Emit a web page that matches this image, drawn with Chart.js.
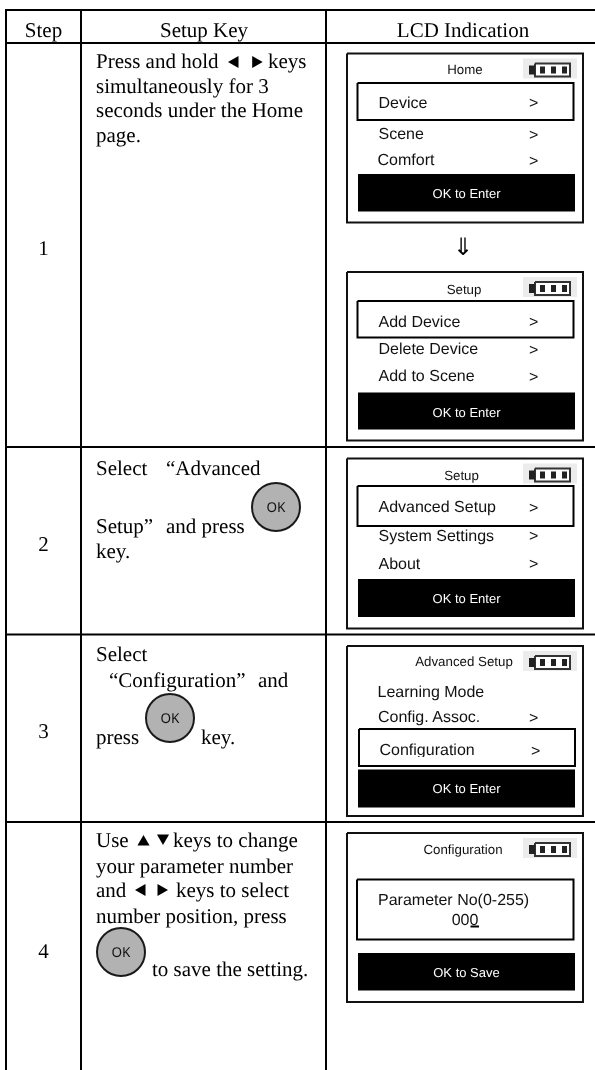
<!DOCTYPE html>
<html>
<head>
<meta charset="utf-8">
<title>Setup steps</title>
<script src="https://cdn.jsdelivr.net/npm/chart.js@4/dist/chart.umd.min.js"></script>
<style>
  html, body { margin: 0; padding: 0; background: #fff; }
  canvas { display: block; }
</style>
</head>
<body>
<canvas id="myChart" width="595" height="1070"></canvas>
<script>
// table rules
const tableRows = [10, 43, 447, 634.5, 822];
const tableCols = [6, 81, 326];

// header and step column
const headers = ['Step', 'Setup Key', 'LCD Indication'];
const headerX = [43.5, 204, 463];
const headerY = [36.5, 36.5, 36.5];
const steps = ['1', '2', '3', '4'];
const stepY = [255, 551, 738, 958];

// middle column text
const setupText = [
  'Press and hold', 'keys', 'simultaneously for 3', 'seconds under the Home', 'page.',
  'Select', '\u201CAdvanced', 'Setup\u201D', 'and press', 'key.',
  'Select', '\u201CConfiguration\u201D', 'and', 'press', 'key.',
  'Use', 'keys to change', 'your parameter number', 'and', 'keys to select',
  'number position, press', 'to save the setting.'
];
const setupX = [
  96, 268, 96, 96, 96,
  96, 166, 96, 166, 96,
  96, 109, 258, 96, 201,
  96, 173, 96, 96, 176,
  96, 152
];
const setupY = [
  68, 68, 92.5, 117, 142,
  475, 475, 532.5, 532.5, 558,
  660.5, 686.5, 686.5, 744, 744,
  847, 847, 872.5, 897, 897,
  922.5, 975.5
];

// key glyphs in the text, rotation in degrees
const arrowX = [235, 255.7, 143.5, 163, 142, 161];
const arrowY = [62, 62, 842, 838, 890, 890];
const arrowRot = [270, 90, 0, 180, 270, 90];

// OK buttons
const okX = [276, 170, 121];
const okY = [507, 718, 952];

// LCD panels
const panelTop = [53.5, 272, 458.5, 646, 833];
const panelBottom = [222.5, 440.5, 628.5, 816, 1002];
const selectLeft = [357.5, 357.5, 357.5, 359, 357];
const selectRight = [573.5, 573.5, 573.5, 575, 573.5];
const selectTop = [83, 301, 486, 729, 879.5];
const selectBottom = [120, 337.5, 526, 766, 939.5];
const barTop = [174, 392.5, 579, 769.5, 953];
const barBottom = [211.5, 429.5, 617, 807.5, 990.5];

const lcdTitles = ['Home', 'Setup', 'Setup', 'Advanced Setup', 'Configuration'];
const titleX = [465, 464, 461.5, 464, 463];
const titleY = [74, 293.5, 480, 666, 853.5];
const lcdFooters = ['OK to Enter', 'OK to Enter', 'OK to Enter', 'OK to Enter', 'OK to Save'];
const footerY = [198, 416.5, 603, 793, 977];

const lcdItems = [
  'Device', 'Scene', 'Comfort',
  'Add Device', 'Delete Device', 'Add to Scene',
  'Advanced Setup', 'System Settings', 'About',
  'Learning Mode', 'Config. Assoc.', 'Configuration',
  'Parameter No(0-255)'
];
const itemX = [378.5, 378.5, 377.5, 378.5, 378.5, 378.5, 378.5, 378.5, 378.5, 377.5, 378, 379.5, 378];
const itemY = [107.5, 139, 165, 326.5, 354, 381, 512, 540.5, 568.5, 697, 722, 755, 905];
const moreX = [529, 529, 529, 529, 529, 529, 529, 529, 529, 529, 531];
const moreY = [108, 140, 166, 327, 355, 382, 513, 541, 569, 723, 756];

const battery = {
  bg: [523, 577, 5, 25],
  body: [535, 570, 10, 23],
  nub: [529, 535, 12, 21],
  cells: [540, 551, 562]
};

function rect(x0, y0, x1, y1, stroke, width, fill) {
  return {
    data: [{x: x0, y: y0}, {x: x1, y: y0}, {x: x1, y: y1}, {x: x0, y: y1}, {x: x0, y: y0}],
    showLine: true,
    borderColor: stroke || 'rgba(0,0,0,0)',
    borderWidth: width || 0,
    borderJoinStyle: 'miter',
    backgroundColor: fill || 'rgba(0,0,0,0)',
    fill: fill ? 'shape' : false,
    pointRadius: 0,
    tension: 0
  };
}

function rule(x0, y0, x1, y1) {
  return {
    data: [{x: x0, y: y0}, {x: x1, y: y1}],
    showLine: true,
    borderColor: '#000',
    borderWidth: 2,
    pointRadius: 0
  };
}

const datasets = [];

tableRows.forEach(y => datasets.push(rule(tableCols[0] - 1, y, 595, y)));
tableCols.forEach(x => datasets.push(rule(x, tableRows[0], x, 1070)));

panelTop.forEach((top, i) => {
  datasets.push(rect(347, top, 583, panelBottom[i], '#111', 2));
  datasets.push(rect(selectLeft[i], selectTop[i], selectRight[i], selectBottom[i], '#000', 2));
  datasets.push(rect(358, barTop[i], 575, barBottom[i], null, 0, '#000'));
  // battery icon
  datasets.push(rect(battery.bg[0], top + battery.bg[2], battery.bg[1], top + battery.bg[3], null, 0, '#ececec'));
  datasets.push(rect(battery.body[0], top + battery.body[2], battery.body[1], top + battery.body[3], '#333', 2, '#fff'));
  datasets.push(rect(battery.nub[0], top + battery.nub[2], battery.nub[1], top + battery.nub[3], null, 0, '#222'));
  battery.cells.forEach(x => datasets.push(rect(x, top + 13, x + 5, top + 20, null, 0, '#222')));
});

// cursor under the last digit
datasets.push(rule(470.5, 926.5, 479, 926.5));

// key glyphs
datasets.push({
  data: arrowX.map((x, i) => ({x: x, y: arrowY[i]})),
  showLine: false,
  pointStyle: 'triangle',
  pointRadius: 7,
  pointRotation: arrowRot,
  backgroundColor: '#000',
  borderWidth: 0
});

// OK buttons
datasets.push({
  data: okX.map((x, i) => ({x: x, y: okY[i]})),
  showLine: false,
  pointStyle: 'circle',
  pointRadius: 24,
  backgroundColor: '#b2b2b2',
  borderColor: '#1a1a1a',
  borderWidth: 2
});

// later datasets go on top
datasets.forEach((d, i) => { d.order = datasets.length - i; });

const tableText = {
  id: 'tableText',
  afterDatasetsDraw(chart) {
    const { ctx, scales: { x, y } } = chart;
    const put = (text, px, py, font, color, align) => {
      ctx.font = font;
      ctx.fillStyle = color;
      ctx.textAlign = align;
      ctx.textBaseline = 'alphabetic';
      ctx.fillText(text, x.getPixelForValue(px), y.getPixelForValue(py));
    };
    const serif = '21px "Liberation Serif"';
    const sans = '"Liberation Sans"';
    ctx.save();
    ctx.textRendering = 'geometricPrecision';

    headers.forEach((t, i) => put(t, headerX[i], headerY[i], serif, '#000', 'center'));
    steps.forEach((t, i) => put(t, headerX[0], stepY[i], serif, '#000', 'center'));
    setupText.forEach((t, i) => put(t, setupX[i], setupY[i], serif, '#000', 'left'));
    put('\u21D3', 463, 255, '24px "Noto Sans CJK SC", "DejaVu Sans"', '#000', 'center');

    okX.forEach((v, i) => put('OK', v, okY[i] + 5, '13.5px "Liberation Sans Narrow", "Noto Sans"', '#111', 'center'));

    lcdTitles.forEach((t, i) => put(t, titleX[i], titleY[i], '13.3px ' + sans, '#111', 'center'));
    lcdFooters.forEach((t, i) => put(t, 466.5, footerY[i], '13px ' + sans, '#fff', 'center'));
    lcdItems.forEach((t, i) => {
      ctx.save();
      if (t === 'Configuration') {
        // descender is cut by the selection box in the source
        ctx.beginPath();
        ctx.rect(358, 730, 216, 27);
        ctx.clip();
      }
      put(t, itemX[i], itemY[i], '16px ' + sans, '#111', 'left');
      ctx.restore();
    });
    moreX.forEach((v, i) => put('>', v, moreY[i], '16px ' + sans, '#111', 'left'));
    put('000', 465, 925, '16px ' + sans, '#111', 'center');

    ctx.restore();
  }
};

new Chart(document.getElementById('myChart'), {
  type: 'scatter',
  data: { datasets },
  options: {
    responsive: false,
    animation: false,
    events: [],
    layout: { padding: 0, autoPadding: false },
    plugins: { legend: { display: false }, tooltip: { enabled: false } },
    scales: {
      x: { type: 'linear', min: 0, max: 595, display: false },
      y: { type: 'linear', min: 0, max: 1070, reverse: true, display: false }
    }
  },
  plugins: [tableText]
});
</script>
</body>
</html>
